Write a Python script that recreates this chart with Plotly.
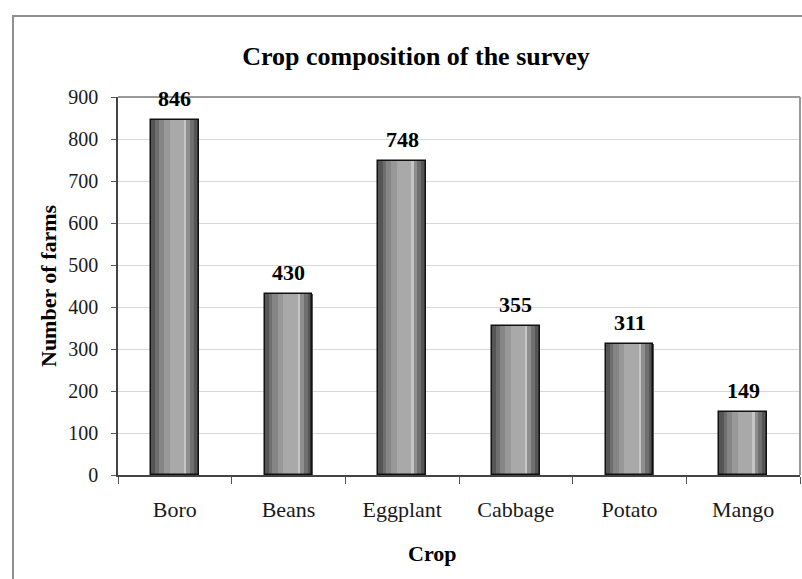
import plotly.graph_objects as go

# Survey data
crops = ["Boro", "Beans", "Eggplant", "Cabbage", "Potato", "Mango"]
farms = [846, 430, 748, 355, 311, 149]
y_ticks = [0, 100, 200, 300, 400, 500, 600, 700, 800, 900]

# Cylinder-like shading: (start fraction, end fraction, colour) across each bar
BAR_WIDTH = 0.42
shade_bands = [
    (0.00, 0.09, "#555555"),
    (0.09, 0.16, "#6e6e6e"),
    (0.16, 0.27, "#858585"),
    (0.27, 0.39, "#989898"),
    (0.39, 0.69, "#a9a9a9"),
    (0.69, 0.74, "#c6c6c6"),
    (0.74, 0.82, "#8e8e8e"),
    (0.82, 0.90, "#707070"),
    (0.90, 1.00, "#555555"),
]

SERIF = "Liberation Serif"

fig = go.Figure()

for start, end, colour in shade_bands:
    fig.add_trace(go.Bar(
        x=crops, y=farms,
        offset=-BAR_WIDTH / 2 + start * BAR_WIDTH,
        width=(end - start) * BAR_WIDTH + 0.004,
        marker=dict(color=colour, line=dict(width=0)),
        hoverinfo="skip", showlegend=False,
    ))

# Outline of each bar
fig.add_trace(go.Bar(
    x=crops, y=farms,
    offset=-BAR_WIDTH / 2, width=BAR_WIDTH,
    marker=dict(color="rgba(0,0,0,0)", line=dict(color="#111111", width=1.5)),
    showlegend=False,
))

# Value labels above the bars
for crop, val in zip(crops, farms):
    fig.add_annotation(
        x=crop, y=val, text=f"<b>{val}</b>", showarrow=False,
        yanchor="bottom", yshift=7,
        font=dict(family=SERIF, size=22, color="#000000"),
    )

# Axis titles
fig.add_annotation(
    xref="paper", yref="paper", x=(432 - 118) / 682, y=(475 - 553) / 378,
    text="<b>Crop</b>", showarrow=False, xanchor="center", yanchor="middle",
    font=dict(family=SERIF, size=22, color="#000000"),
)
fig.add_annotation(
    xref="paper", yref="paper", x=(48 - 118) / 682, y=0.5,
    text="<b>Number of farms</b>", showarrow=False, textangle=-90,
    xanchor="center", yanchor="middle",
    font=dict(family=SERIF, size=22, color="#000000"),
)

# Outer chart frame and plot-area border
fig.add_shape(type="rect", xref="paper", yref="paper",
              x0=(13 - 118) / 682, y0=-0.5, x1=1.2, y1=(475 - 16) / 378,
              line=dict(color="#8f8f8f", width=2), layer="below")
fig.add_shape(type="line", xref="paper", yref="paper",
              x0=0, y0=1, x1=1, y1=1, line=dict(color="#999999", width=2))
fig.add_shape(type="line", xref="paper", yref="paper",
              x0=1, y0=0, x1=1, y1=1, line=dict(color="#999999", width=2))

fig.update_layout(
    width=802, height=579,
    margin=dict(l=118, r=2, t=97, b=104),
    paper_bgcolor="white", plot_bgcolor="white",
    barmode="overlay", bargap=0,
    title=dict(
        text="<b>Crop composition of the survey</b>",
        x=416 / 802, xref="container", xanchor="center",
        y=1 - 56 / 579, yref="container", yanchor="middle",
        font=dict(family=SERIF, size=26, color="#000000"),
    ),
    xaxis=dict(
        range=[-0.5, 5.5], tickson="boundaries", ticks="outside", ticklen=7,
        tickcolor="#555555", showline=True, linecolor="#444444", linewidth=1.5,
        showgrid=False, ticklabelstandoff=14,
        tickfont=dict(family=SERIF, size=22, color="#1a1a1a"),
    ),
    yaxis=dict(
        range=[0, 900], tickvals=y_ticks, ticks="outside", ticklen=5,
        tickcolor="#555555", showline=True, linecolor="#444444", linewidth=1.5,
        showgrid=True, gridcolor="#d8d8d8", gridwidth=1, zeroline=False,
        ticklabelstandoff=9,
        tickfont=dict(family=SERIF, size=20, color="#1a1a1a"),
    ),
)

fig.write_html("out.html")
